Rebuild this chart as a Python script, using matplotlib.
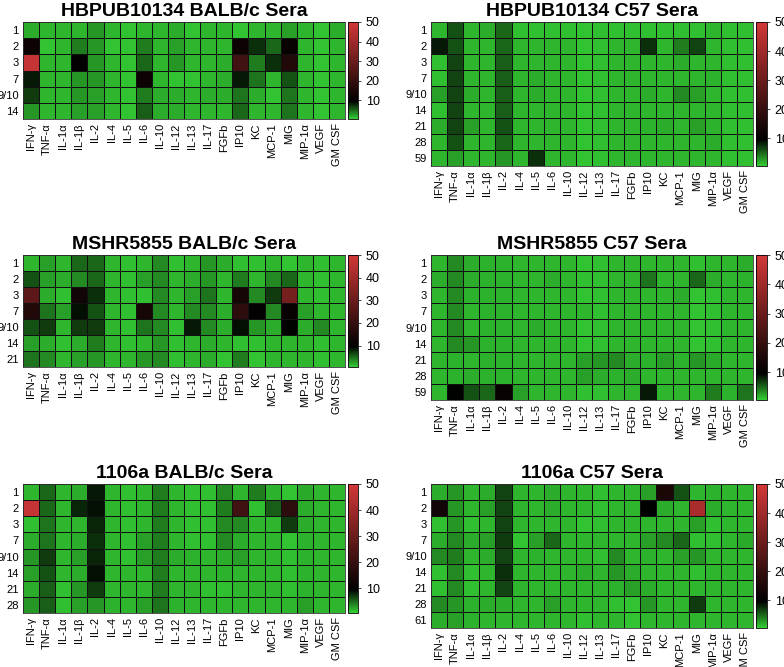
import numpy as np
import matplotlib
matplotlib.use("Agg")
import matplotlib.pyplot as plt
from matplotlib.colors import LinearSegmentedColormap, Normalize

plt.rcParams['font.family'] = ['Liberation Sans', 'DejaVu Sans']

cytokines = ["IFN-γ", "TNF-α", "IL-1α", "IL-1β", "IL-2", "IL-4", "IL-5", "IL-6", "IL-10",
             "IL-12", "IL-13", "IL-17", "FGFb", "IP10", "KC", "MCP-1", "MIG", "MIP-1α",
             "VEGF", "GM CSF"]

days_hb_balb = ["1", "2", "3", "7", "9/10", "14"]
hb_balb = [
    [2, 1.5, 1.5, 1.5, 3, 1.5, 1, 1.5, 1.5, 2, 1, 1.5, 1.5, 1, 1.5, 1.5, 2.5, 1.5, 1, 2],
    [12, 1, 1.5, 4, 3, 1, 1, 4, 1.5, 2.5, 1.5, 1.5, 1.5, 12, 7.5, 5, 11, 1.5, 1, 1.5],
    [47, 1.5, 1.5, 10, 3, 1.5, 1, 5, 1.5, 3, 1.5, 1.5, 2, 22, 4, 7.5, 16, 1.5, 1, 1.5],
    [8.5, 1.5, 1.5, 3, 3, 1.5, 1, 12, 1.5, 1, 1, 1.5, 2, 8.5, 4.5, 1.5, 6, 1.5, 1, 1.5],
    [7, 1.5, 1.5, 3, 2.5, 1.5, 1, 4, 2, 2, 1.5, 2, 2, 4.5, 2, 1, 4.5, 1.5, 1, 1.5],
    [3, 1.5, 1.5, 2.5, 2.5, 1.5, 1, 5.5, 2, 2, 1.5, 1.5, 1.5, 5, 1.5, 1.5, 4.5, 1.5, 1, 1.5],
]

days_hb_c57 = ["1", "2", "3", "7", "9/10", "14", "21", "28", "59"]
hb_c57 = [
    [1.5, 6, 1.5, 2, 5, 1.2, 1.2, 1.2, 1.2, 1, 1.2, 1.2, 1.2, 1.2, 1.2, 1.2, 1.2, 1.5, 1.2, 1.2],
    [8.5, 6, 1.5, 1.5, 5, 1.5, 1.5, 1.5, 1.5, 1, 1.2, 1.5, 1.5, 7.5, 1.5, 4, 6.5, 1.5, 1.2, 1.2],
    [1.2, 6.5, 1.5, 1.5, 5.5, 1.5, 1.5, 1.5, 1.5, 1, 1.2, 1.5, 1.5, 1.5, 1.5, 2, 1.5, 1.5, 1.2, 1.2],
    [1.2, 6.5, 1.5, 1.5, 5.5, 1.5, 2, 1.5, 1.5, 1, 1.2, 1.5, 1.5, 1.5, 1.5, 1.5, 1.5, 1.8, 1.2, 1.2],
    [2.5, 6.5, 2, 1.5, 5.5, 1.5, 2, 1.5, 1.5, 1, 1.2, 1.5, 1.5, 2, 1.5, 3.5, 2.5, 1.5, 1.2, 1.2],
    [1.2, 6.5, 1.5, 1.5, 5.5, 1.5, 1.5, 1.5, 1.5, 1, 1.2, 1.5, 1.5, 1.5, 1.5, 1.5, 1.5, 1.5, 1.2, 1.2],
    [2, 6.5, 2.5, 1.5, 6, 1.5, 1.5, 1.5, 1.5, 1, 1.2, 1.5, 1.5, 1.8, 2, 1.5, 2.5, 1.8, 1.2, 1.2],
    [1.5, 6, 1.5, 1.5, 5, 1.5, 1.5, 1.5, 1.5, 1, 1.2, 1.5, 1.5, 1.5, 1.5, 1.5, 1.5, 2, 1.2, 1.2],
    [1.5, 2.5, 1.5, 1.5, 3, 1.5, 7.5, 1.5, 1.5, 1, 1.2, 1.5, 1.5, 1.5, 1.5, 1.5, 1.5, 1.5, 1.2, 1.2],
]

days_ms_balb = ["1", "2", "3", "7", "9/10", "14", "21"]
ms_balb = [
    [1.5, 2.5, 1.5, 5, 5, 1.5, 1.2, 1.5, 3.5, 1.2, 1.5, 3, 2, 1.2, 1.2, 1.5, 1, 1.5, 1.2, 1.5],
    [6, 2.5, 2, 3.5, 5, 1.5, 1.2, 2.5, 3.5, 1.5, 2, 3, 1.5, 4, 1.5, 3.5, 5, 1.5, 1.2, 1.5],
    [27, 2, 1.2, 13, 7.5, 1.5, 1.2, 1.2, 3.5, 1.5, 2.5, 4.5, 1.5, 14, 3.5, 7, 32, 1.5, 1.2, 1.5],
    [16, 4.5, 2.5, 9, 6, 1.5, 1.2, 14, 3.5, 1.5, 3.5, 3.5, 2, 18, 10, 3.5, 11, 2.5, 1.5, 1.5],
    [6, 7, 1.5, 7, 7, 1.5, 1.2, 4.5, 3.5, 1.2, 8.5, 3.5, 2, 9, 3, 2, 9.5, 2, 3.5, 1.5],
    [2.5, 2, 1.2, 2, 4, 1.5, 1.2, 1.5, 3, 1.2, 1.5, 2, 1.5, 1.2, 1.2, 1.5, 1.5, 1.5, 1.2, 1.5],
    [4.5, 3.5, 1.5, 2.5, 3, 1.5, 1.5, 3, 3.5, 1.2, 1.5, 2, 1, 4, 1, 1.5, 1.5, 1.5, 1.2, 1.5],
]

days_ms_c57 = ["1", "2", "3", "7", "9/10", "14", "21", "28", "59"]
ms_c57 = [
    [1.5, 3.5, 2, 1.8, 1.8, 1.5, 1.5, 1.5, 1.5, 1, 1.2, 1.5, 1.5, 1.5, 1.5, 1.5, 1.2, 1.5, 1.5, 2],
    [2, 3.5, 2, 1.8, 1.8, 1.5, 1.5, 2, 1.5, 1.2, 1.2, 1.5, 1.5, 4.5, 1.5, 1.5, 5, 2, 1.5, 1.8],
    [1.5, 3.5, 1.8, 1.8, 1.8, 1.5, 1.5, 1.5, 1.5, 1, 1.2, 1.5, 1.5, 1.5, 1.5, 2, 1, 1.2, 1.5, 1.5],
    [1.5, 3.5, 1.5, 1.8, 1.8, 1.5, 1.5, 1.5, 1.5, 1.5, 1.2, 1.5, 1.5, 1.5, 1.5, 1.5, 1, 1.2, 1.5, 1.5],
    [1.5, 3.5, 1.5, 1.8, 1.8, 1.5, 2, 1.5, 1.5, 1, 1.2, 1.5, 1.5, 1.5, 1.5, 1.5, 1, 1.2, 1.5, 1.5],
    [1.5, 3.5, 3, 1.8, 1.8, 1.5, 1.5, 1.5, 1.5, 1, 1.2, 1.5, 1.5, 1.5, 1.5, 1.5, 1, 1.2, 1.5, 1.5],
    [1.5, 1.8, 1.5, 1.8, 1.8, 1.5, 1.5, 1.5, 1.5, 2.5, 3, 3.5, 2, 1.8, 2.5, 1.8, 3, 2.2, 1.5, 1.5],
    [1.5, 1.8, 2, 1.8, 1.8, 1.5, 1.5, 1.5, 1.5, 2.5, 2, 1.8, 2, 1.5, 1.5, 1.5, 1.5, 1.5, 1.5, 1.5],
    [1.5, 9.5, 6, 5, 11, 2.5, 1.5, 1.5, 1.5, 1.2, 1.2, 1.5, 1.5, 8.5, 1.5, 1.5, 1.5, 4, 1.8, 4.5],
]

days_11_balb = ["1", "2", "3", "7", "9/10", "14", "21", "28"]
b11_balb = [
    [1.5, 5, 1.5, 2, 8.5, 1.5, 1.2, 1.5, 4, 1.5, 1.2, 1.2, 3.5, 1.5, 4, 1.8, 1, 2.2, 1.5, 1.5],
    [47, 5, 1.5, 8, 9, 1.5, 1.2, 1.5, 4, 1.5, 1.2, 1.2, 4, 22, 1.2, 5.5, 18, 2, 1.5, 1.5],
    [1.2, 4.5, 1.5, 1.5, 8, 1.5, 1.2, 1.5, 4, 1.5, 1.2, 1.2, 3.5, 3.5, 1.5, 1.5, 7, 2, 1.5, 1.5],
    [2, 4.5, 1.5, 2, 7.5, 1.5, 1.2, 2.5, 4, 1.5, 1.2, 1.2, 3.5, 2, 1.5, 1.5, 1, 1.8, 1.5, 1.5],
    [3, 7, 1.5, 2.5, 8, 1.5, 1.2, 2.5, 4, 2, 1.8, 1.5, 2, 2.5, 1.5, 1.5, 1.2, 1.8, 1.5, 1.5],
    [2.5, 6, 1.5, 2, 9, 1.5, 1.5, 1.5, 4, 1.5, 1.5, 1.5, 1.8, 1.5, 1.5, 1.5, 1.2, 1.8, 1.5, 1.5],
    [2, 5.5, 1.2, 3, 7, 1.5, 1.5, 1.5, 4, 1.5, 1.5, 1.2, 1.2, 1.5, 1.5, 1.5, 1.2, 1.8, 1.5, 1.5],
    [3, 5.5, 1.2, 2.5, 3, 1.8, 1.5, 2.5, 4.5, 1.8, 1.5, 1.5, 1.5, 1.5, 1.5, 1.5, 1.5, 2.5, 1.5, 1.5],
]

days_11_c57 = ["1", "2", "3", "7", "9/10", "14", "21", "28", "61"]
b11_c57 = [
    [2, 3, 1.5, 2, 6.5, 1.5, 1.5, 2, 1.5, 1.5, 1.2, 1.5, 1.5, 2.5, 15, 6, 1.5, 1.8, 1.5, 1.5],
    [13, 3, 1.5, 2.5, 6.5, 1.5, 1.5, 2, 1.5, 1.5, 1.2, 1.5, 1.5, 9.5, 2, 1.5, 42, 2, 1.5, 1.5],
    [1.2, 3, 1.2, 1.5, 6.5, 1.5, 1.5, 1.5, 1.5, 1, 1.2, 1.5, 1.5, 1.5, 1.5, 1.5, 2.5, 1.2, 1.5, 1.5],
    [2, 3.5, 2, 2.5, 7, 1, 2.5, 5, 1.5, 1.5, 1.5, 1.5, 1.5, 2.5, 3.5, 5, 1.2, 1.2, 1.5, 2.2],
    [3.5, 4, 1.5, 2, 6.5, 1.5, 1.8, 1.5, 1.5, 1.5, 1.2, 3.5, 1.5, 1.8, 1.5, 2.5, 3, 1.5, 1.5, 1.5],
    [1.2, 3.5, 1.2, 1.5, 7.5, 1.5, 1.5, 1.5, 1.5, 2, 1.5, 3, 2, 1.5, 1.5, 1.5, 1.2, 1.5, 1.5, 1.5],
    [1.2, 3.5, 1.2, 1.5, 6.5, 1.5, 1.5, 1.5, 1.5, 1.5, 1.5, 1.8, 2.5, 2, 1.5, 1.5, 1.5, 1.5, 1.5, 1.5],
    [3.5, 3, 1.8, 2, 2, 1.5, 1.5, 2.5, 1.5, 1.5, 1.5, 1.2, 1, 3, 1.5, 1.5, 7, 1.5, 1.5, 1.5],
    [2, 2.5, 1.8, 1.5, 1.5, 1.5, 1.5, 1.5, 1.5, 1.2, 1.5, 1.5, 1, 1.5, 1.5, 1.5, 1.5, 1.5, 1.5, 1.5],
]

titles = ["HBPUB10134 BALB/c Sera", "HBPUB10134 C57 Sera",
          "MSHR5855 BALB/c Sera", "MSHR5855 C57 Sera",
          "1106a BALB/c Sera", "1106a C57 Sera"]

vmin, vmax = 0.5, 50.0
blk = 9.5
green = (0.20, 0.80, 0.20)
red = (0.83, 0.22, 0.22)
cmap = LinearSegmentedColormap.from_list(
    "gbr", [(0.0, green), ((blk - vmin) / (vmax - vmin), (0, 0, 0)), (1.0, red)])
norm = Normalize(vmin=vmin, vmax=vmax)

W, H = 784, 667
fig = plt.figure(figsize=(W / 100, H / 100), dpi=100)

def px_axes(x0, y0, x1, y1):
    return fig.add_axes([x0 / W, 1 - y1 / H, (x1 - x0) / W, (y1 - y0) / H])

panels = [
    (hb_balb, days_hb_balb, 23, 22, 345, 119, 348, 358),
    (hb_c57, days_hb_c57, 431, 22, 753, 166, 756, 767),
    (ms_balb, days_ms_balb, 23, 255, 345, 367, 348, 358),
    (ms_c57, days_ms_c57, 431, 255, 753, 400, 756, 767),
    (b11_balb, days_11_balb, 23, 484, 345, 613, 348, 358),
    (b11_c57, days_11_c57, 431, 484, 753, 628, 756, 767),
]

for (data, days, x0, y0, x1, y1, cx0, cx1), title in zip(panels, titles):
    ax = px_axes(x0, y0, x1, y1)
    arr = np.array(data, dtype=float)
    m = ax.pcolormesh(arr, cmap=cmap, norm=norm, edgecolors='#111111', linewidth=0.6)
    ax.set_xlim(0, arr.shape[1])
    ax.set_ylim(arr.shape[0], 0)
    ax.set_xticks(np.arange(arr.shape[1]) + 0.5)
    ax.set_xticklabels(cytokines, rotation=90, fontsize=8)
    ax.set_yticks(np.arange(arr.shape[0]) + 0.5)
    ax.set_yticklabels(days, fontsize=8)
    ax.tick_params(length=0, pad=3)
    for s in ax.spines.values():
        s.set_linewidth(0.6)
        s.set_color('#333333')
    ax.set_title(title, fontsize=14, fontweight='bold', pad=4)

    cax = px_axes(cx0, y0, cx1, y1)
    cb = fig.colorbar(m, cax=cax)
    cb.set_ticks([10, 20, 30, 40, 50])
    cb.ax.tick_params(labelsize=9, length=2, width=0.5)
    cb.outline.set_linewidth(0.6)

fig.savefig("out.png", dpi=100)
